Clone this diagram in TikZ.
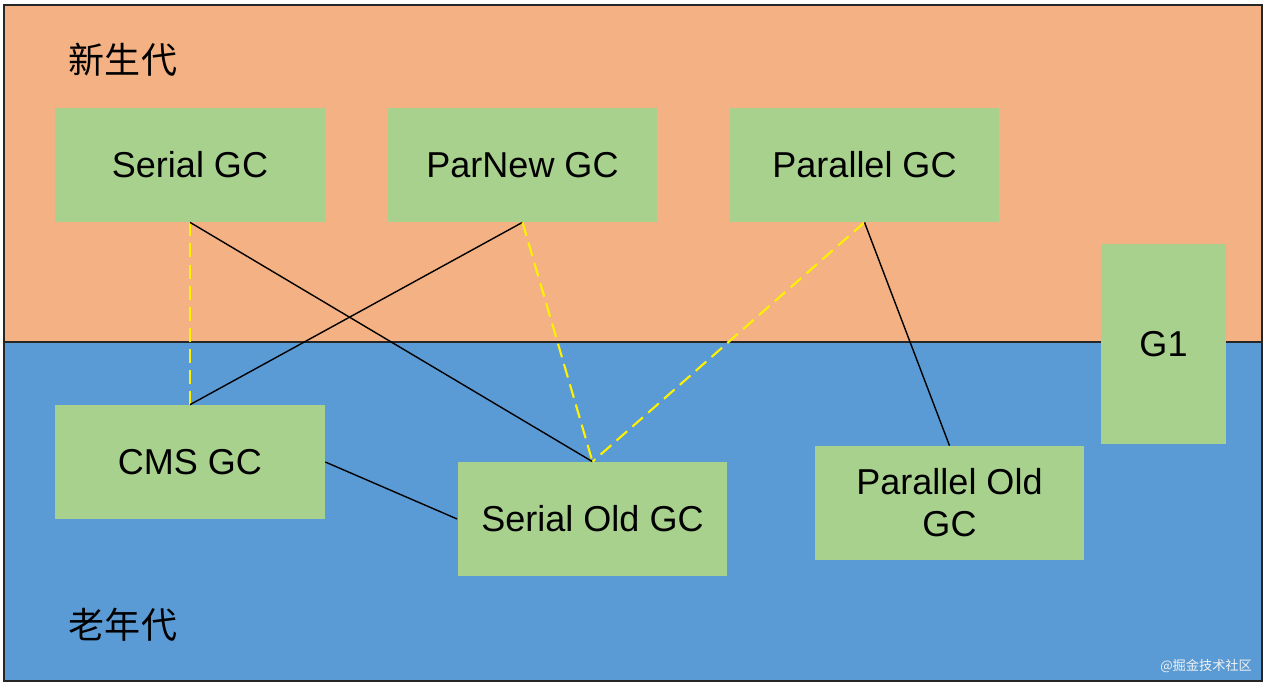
\documentclass[tikz,border=0pt]{standalone}
\usepackage{fontspec}
\setmainfont{Liberation Sans}
\newfontfamily\cjk{Noto Sans CJK SC}
\usepackage{xcolor}
\definecolor{youngbg}{HTML}{F4B183}
\definecolor{oldbg}{HTML}{5B9BD5}
\definecolor{gcgreen}{HTML}{A9D18E}
\definecolor{frame}{HTML}{262626}
\usetikzlibrary{positioning,calc}

\begin{document}
\begin{tikzpicture}[
  x=0.02cm, y=-0.02cm,
  gc/.style={fill=gcgreen, draw=none, minimum width=5.4cm, minimum height=2.28cm, inner sep=0pt, font=\fontsize{20.5}{24}\selectfont, align=center},
  pair/.style={draw=black, line width=0.8pt},
  serialpair/.style={draw=yellow, line width=1.2pt, dash pattern=on 8pt off 4pt},
  region/.style={font=\cjk\fontsize{20.5}{24}\selectfont}
]
  \useasboundingbox (0,0) rectangle (1274,687);

  % Draw regions
  \fill[youngbg] (4,5) rectangle (1262,342);
  \fill[oldbg] (4,342) rectangle (1262,681);
  \draw[frame, line width=1pt] (4,342) -- (1262,342);
  \draw[frame, line width=1.2pt] (4,5) rectangle (1262,681);
  \node[region] (young) at (123,60) {新生代};
  \node[region] (old) at (123,625) {老年代};

  % Draw collectors
  \node[gc] (serial) at (190,165) {Serial GC};
  \node[gc] (parnew) at (522.5,165) {ParNew GC};
  \node[gc] (parallel) at (864.5,165) {Parallel GC};
  \node[gc, minimum width=2.5cm, minimum height=4cm] (g1) at (1163.5,344) {G1};
  \node[gc] (cms) at (190,462) {CMS GC};
  \node[gc] (serialold) at (592.5,519) {Serial Old GC};
  \node[gc] (parallelold) at (949.5,503) {Parallel Old\\GC};

  % Draw combinations
  \draw[serialpair] (serial.south) -- (cms.north);
  \draw[pair] (serial.south) -- (serialold.north);
  \draw[pair] (parnew.south) -- (cms.north);
  \draw[serialpair] (parnew.south) -- (serialold.north);
  \draw[serialpair] (parallel.south) -- (serialold.north);
  \draw[pair] (parallel.south) -- (parallelold.north);
  \draw[pair] (cms.east) -- (serialold.west);

  % Watermark
  \node[font=\cjk\fontsize{7.5}{8}\selectfont, text=white!90!gray, anchor=east] (mark) at (1258,666) {@掘金技术社区};
\end{tikzpicture}
\end{document}
